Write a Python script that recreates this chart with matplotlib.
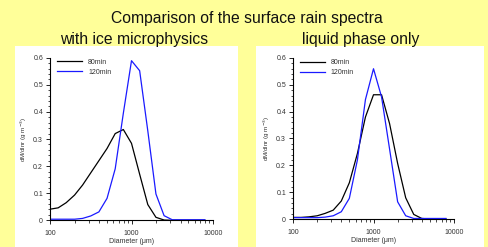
import matplotlib
matplotlib.use("Agg")
import matplotlib.pyplot as plt
from matplotlib.patches import Rectangle
from matplotlib.ticker import FuncFormatter, MultipleLocator, LogLocator

plt.rcParams['font.family'] = ['Liberation Sans', 'DejaVu Sans']

# 直径 (μm)
diameter = [100, 126, 158, 200, 251, 316, 398, 501, 631, 794,
            1000, 1259, 1585, 1995, 2512, 3162, 3981, 5012, 6310, 7943]

# 氷あり
ice_80 = [0.041, 0.046, 0.065, 0.093, 0.13, 0.175, 0.22, 0.265, 0.32, 0.335,
          0.284, 0.17, 0.058, 0.011, 0.001, 0.0, 0.0, 0.0, 0.0, 0.0]
ice_120 = [0.004, 0.004, 0.004, 0.004, 0.007, 0.016, 0.031, 0.081, 0.19, 0.395,
           0.589, 0.552, 0.33, 0.097, 0.017, 0.002, 0.002, 0.002, 0.002, 0.002]

# 液相のみ
liq_80 = [0.006, 0.006, 0.008, 0.012, 0.021, 0.033, 0.067, 0.135, 0.244, 0.38,
          0.463, 0.463, 0.355, 0.207, 0.079, 0.017, 0.002, 0.0, 0.0, 0.0]
liq_120 = [0.005, 0.005, 0.005, 0.005, 0.007, 0.012, 0.027, 0.077, 0.22, 0.445,
           0.56, 0.455, 0.26, 0.064, 0.012, 0.002, 0.002, 0.002, 0.002, 0.002]

fig = plt.figure(figsize=(4.88, 2.47), dpi=100)
fig.patch.set_facecolor('#ffff99')

# 白いパネル
W, H = 488.0, 247.0
for x0, x1 in [(15, 238), (256, 484)]:
    fig.add_artist(Rectangle((x0 / W, 0), (x1 - x0) / W, (H - 46) / H,
                             transform=fig.transFigure, facecolor='white',
                             edgecolor='none', zorder=0))

fig.text(247 / W, 1 - 18 / H, "Comparison of the surface rain spectra",
         ha='center', va='center', fontsize=11.3, color='#111111')
fig.text(134 / W, 1 - 39 / H, "with ice microphysics",
         ha='center', va='center', fontsize=11.3, color='#111111')
fig.text(361 / W, 1 - 39 / H, "liquid phase only",
         ha='center', va='center', fontsize=11.3, color='#111111')


def draw_panel(rect, s80, s120):
    ax = fig.add_axes(rect)
    ax.set_facecolor('none')
    ax.plot(diameter, s80, color='black', lw=0.9, label='80min')
    ax.plot(diameter, s120, color='#1a1aff', lw=0.9, label='120min')
    ax.set_xscale('log')
    ax.set_xlim(100, 10000)
    ax.set_ylim(0, 0.6)
    ax.spines['top'].set_visible(False)
    ax.spines['right'].set_visible(False)
    for sp in ['left', 'bottom']:
        ax.spines[sp].set_linewidth(0.8)
    ax.yaxis.set_major_locator(MultipleLocator(0.1))
    ax.yaxis.set_minor_locator(MultipleLocator(0.02))
    ax.xaxis.set_major_locator(LogLocator(base=10))
    ax.xaxis.set_minor_locator(LogLocator(base=10, subs=range(2, 10)))
    ax.yaxis.set_major_formatter(FuncFormatter(lambda v, p: '%g' % round(v, 2)))
    ax.xaxis.set_major_formatter(FuncFormatter(lambda v, p: '%d' % v))
    ax.xaxis.set_minor_formatter(FuncFormatter(lambda v, p: ''))
    ax.tick_params(which='major', direction='out', length=3, width=0.6,
                   labelsize=5, pad=2, labelcolor='#333333')
    ax.tick_params(which='minor', direction='out', length=1.8, width=0.5)
    ax.tick_params(axis='x', which='major', pad=4)
    ax.set_xlabel('Diameter (μm)', fontsize=5, labelpad=1, color='#333333')
    ax.set_ylabel('dM/dlnr (g m$^{-3}$)', fontsize=4.5, labelpad=3, color='#333333')
    leg = ax.legend(loc='upper left', frameon=False, fontsize=5, handlelength=3.6,
                    labelspacing=0.45, borderaxespad=0.2,
                    bbox_to_anchor=(0.02, 1.02))
    for t in leg.get_texts():
        t.set_color('#333333')
    return ax


draw_panel([50 / W, 1 - 220.3 / H, 163 / W, 162.6 / H], ice_80, ice_120)
draw_panel([293 / W, 1 - 219 / H, 161 / W, 161 / H], liq_80, liq_120)

fig.savefig('out.png', dpi=100, facecolor=fig.get_facecolor())
